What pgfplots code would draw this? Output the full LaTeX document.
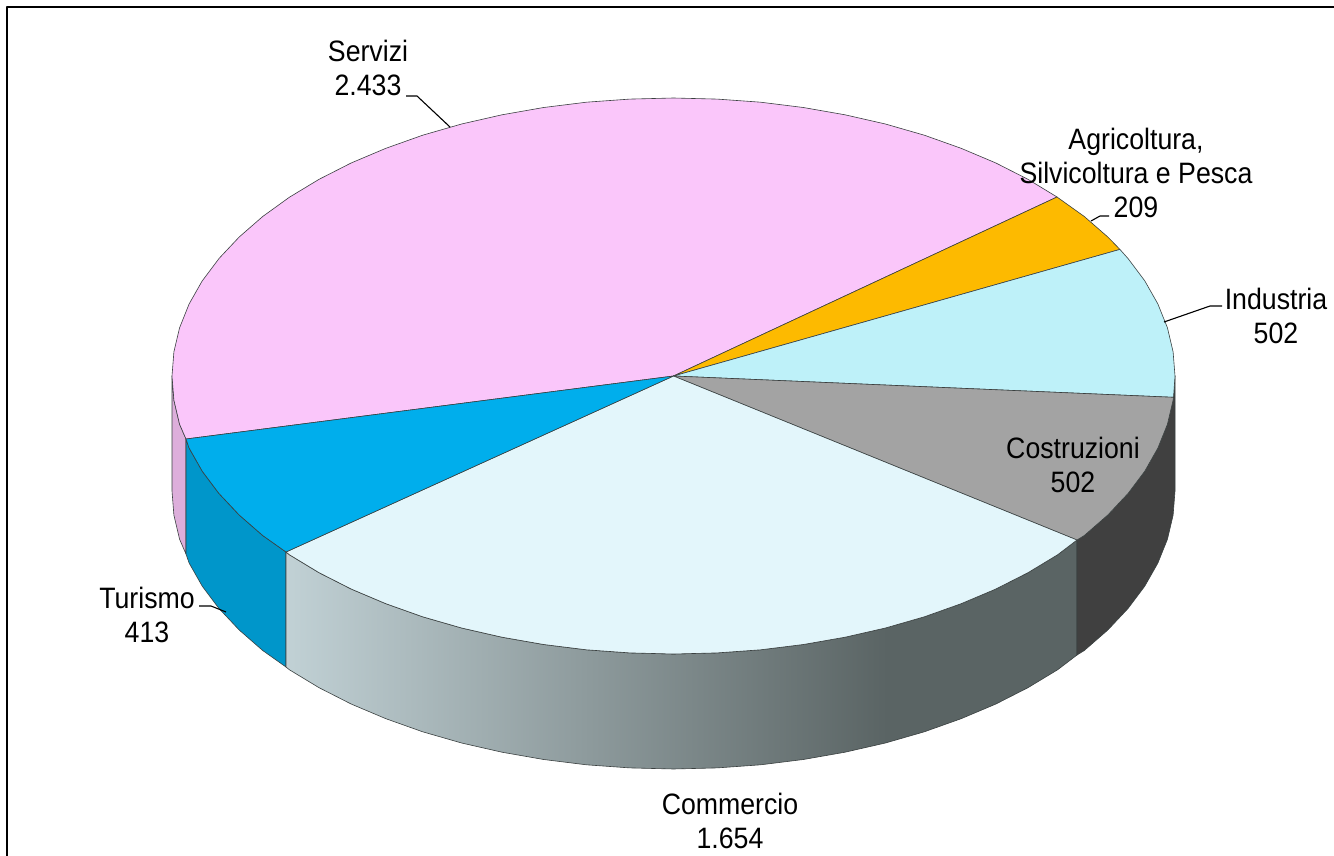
\documentclass[border=0pt]{standalone}
\usepackage{fontspec}
\setmainfont[FakeStretch=0.905]{Liberation Sans}
\usepackage{pgfplots}
\pgfplotsset{compat=1.18}
\definecolor{serv}{HTML}{FAC6FA}
\definecolor{servw}{HTML}{DDAEDB}
\definecolor{agri}{HTML}{FDBA00}
\definecolor{indu}{HTML}{BEF1F9}
\definecolor{cost}{HTML}{A3A3A3}
\definecolor{costw}{HTML}{404040}
\definecolor{comm}{HTML}{E3F6FB}
\definecolor{turi}{HTML}{00AEEC}
\definecolor{turiw}{HTML}{0096CA}
\definecolor{edge}{HTML}{3A4040}
\definecolor{wallL}{RGB}{193,209,213}
\definecolor{wallD}{RGB}{90,100,100}
% commercio wall: path box maps onto 25bp..75bp of the shading
\pgfdeclarehorizontalshading{commwall}{100bp}{
  color(0bp)=(wallL); color(25bp)=(wallL); color(63bp)=(wallD); color(100bp)=(wallD)}
\begin{document}
\begin{tikzpicture}
\path[use as bounding box] (0,0) rectangle (1334pt,856pt);
\begin{axis}[
    anchor=south west, at={(0,0)},
    width=1334pt, height=856pt, scale only axis,
    xmin=0, xmax=1334, ymin=0, ymax=856, y dir=reverse,
    axis lines=none,
    every axis plot/.append style={line join=round},
    nodes={font=\fontsize{29.5}{34}\selectfont, align=center, inner sep=0pt},
]
% frame
\addplot[black, line width=2.2pt] coordinates {(7,856) (7,7) (1334,7)};

% side walls
\addplot[fill=servw, draw=edge, line width=0.6pt] coordinates {
  (172,376) (173.9,400.2) (179.6,424.3) (186,439) (186,554) (179.6,539.3) (173.9,515.2) (172,491)} -- cycle;
\addplot[fill=turiw, draw=edge, line width=0.6pt] coordinates {
  (186,439) (189.1,448) (202.2,471.1) (219,493.5) (239.2,515) (262.7,535.5) (286,552)
  (286,667) (262.7,650.5) (239.2,630) (219,608.5) (202.2,586.1) (189.1,563) (186,554)} -- cycle;
\addplot[shading=commwall, draw=edge, line width=0.6pt] coordinates {
  (1077,540) (1057.7,554.7) (1028.1,572.6) (995.9,589) (961.1,603.7) (924.3,616.8) (885.4,628) (845,637.2)
  (803.3,644.5) (760.6,649.8) (717.2,652.9) (673.5,654) (629.8,652.9) (586.4,649.8) (543.7,644.5) (502,637.2)
  (461.6,628) (422.7,616.8) (385.9,603.7) (351.1,589) (318.9,572.6) (289.3,554.7) (286,552)
  (286,667) (289.3,669.7) (318.9,687.6) (351.1,704) (385.9,718.7) (422.7,731.8) (461.6,743) (502,752.2)
  (543.7,759.5) (586.4,764.8) (629.8,767.9) (673.5,769) (717.2,767.9) (760.6,764.8) (803.3,759.5) (845,752.2)
  (885.4,743) (924.3,731.8) (961.1,718.7) (995.9,704) (1028.1,687.6) (1057.7,669.7) (1077,655)} -- cycle;
\addplot[fill=costw, draw=edge, line width=0.6pt] coordinates {
  (1077,540) (1084.3,535.5) (1107.8,515) (1128,493.5) (1144.8,471.1) (1157.9,448) (1167.4,424.3) (1173.1,400.2) (1175,376)
  (1175,491) (1173.1,515.2) (1167.4,539.3) (1157.9,563) (1144.8,586.1) (1128,608.5) (1107.8,630) (1084.3,650.5) (1077,655)} -- cycle;

% top faces
\addplot[fill=serv, draw=edge, line width=0.6pt] coordinates {
  (673.5,376) (186,439) (179.6,424.3) (173.9,400.2) (172,376) (173.9,351.8) (179.6,327.7) (189.1,304) (202.2,280.9)
  (219,258.5) (239.2,237) (262.7,216.5) (289.3,197.3) (318.9,179.4) (351.1,163) (385.9,148.3) (422.7,135.2)
  (461.6,124) (502,114.8) (543.7,107.5) (586.4,102.2) (629.8,99.1) (673.5,98) (717.2,99.1) (760.6,102.2)
  (803.3,107.5) (845,114.8) (885.4,124) (924.3,135.2) (961.1,148.3) (995.9,163) (1028.1,179.4) (1057,197)} -- cycle;
\addplot[fill=agri, draw=edge, line width=0.6pt] coordinates {
  (673.5,376) (1057,197) (1084.3,216.5) (1107.8,237) (1119.9,249.4)} -- cycle;
\addplot[fill=indu, draw=edge, line width=0.6pt] coordinates {
  (673.5,376) (1119.9,249.4) (1128,258.5) (1144.8,280.9) (1157.9,304) (1167.4,327.7) (1173.1,351.8) (1175,376) (1173.5,397.3)} -- cycle;
\addplot[fill=cost, draw=edge, line width=0.6pt] coordinates {
  (673.5,376) (1173.5,397.3) (1173.1,400.2) (1167.4,424.3) (1157.9,448) (1144.8,471.1) (1128,493.5) (1107.8,515) (1084.3,535.5) (1077,540)} -- cycle;
\addplot[fill=comm, draw=edge, line width=0.6pt] coordinates {
  (673.5,376) (1077,540) (1057.7,554.7) (1028.1,572.6) (995.9,589) (961.1,603.7) (924.3,616.8) (885.4,628) (845,637.2)
  (803.3,644.5) (760.6,649.8) (717.2,652.9) (673.5,654) (629.8,652.9) (586.4,649.8) (543.7,644.5) (502,637.2)
  (461.6,628) (422.7,616.8) (385.9,603.7) (351.1,589) (318.9,572.6) (289.3,554.7) (286,552)} -- cycle;
\addplot[fill=turi, draw=edge, line width=0.6pt] coordinates {
  (673.5,376) (286,552) (262.7,535.5) (239.2,515) (219,493.5) (202.2,471.1) (189.1,448) (186,439)} -- cycle;

% leader lines
\addplot[black, line width=1.1pt] coordinates {(406,96) (417,96) (450,127)};
\addplot[black, line width=1.1pt] coordinates {(1109,216) (1100,216) (1091,221)};
\addplot[black, line width=1.1pt] coordinates {(1222,306) (1210,306) (1164,322)};
\addplot[black, line width=1.1pt] coordinates {(199,606) (211,606) (226,612)};

% labels
\node at (axis cs:368,68) {Servizi\\2.433};
\node at (axis cs:1136,173) {Agricoltura,\\Silvicoltura e Pesca\\209};
\node at (axis cs:1276,316) {Industria\\502};
\node at (axis cs:1073,465) {Costruzioni\\502};
\node at (axis cs:147,615) {Turismo\\413};
\node at (axis cs:730,821) {Commercio\\1.654};
\end{axis}
\end{tikzpicture}
\end{document}
